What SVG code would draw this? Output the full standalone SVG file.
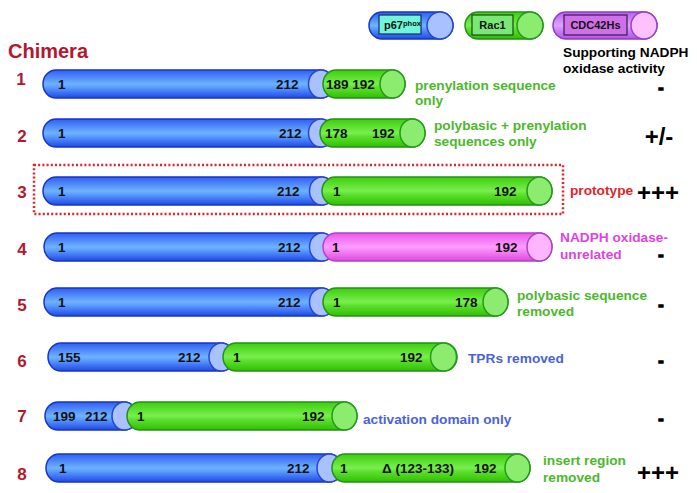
<svg xmlns="http://www.w3.org/2000/svg" width="697" height="493" viewBox="0 0 697 493">
<defs>
<linearGradient id="gb" x1="0" y1="0" x2="0" y2="1">
<stop offset="0" stop-color="#2f5ff2"/><stop offset="0.5" stop-color="#6fb2ff"/><stop offset="0.62" stop-color="#5a9cff"/><stop offset="1" stop-color="#2049e6"/>
</linearGradient>
<linearGradient id="gg" x1="0" y1="0" x2="0" y2="1">
<stop offset="0" stop-color="#3ccf0a"/><stop offset="0.5" stop-color="#7aee50"/><stop offset="0.62" stop-color="#5ee030"/><stop offset="1" stop-color="#2fc000"/>
</linearGradient>
<linearGradient id="gp" x1="0" y1="0" x2="0" y2="1">
<stop offset="0" stop-color="#e858e8"/><stop offset="0.5" stop-color="#ff9cff"/><stop offset="0.62" stop-color="#f888f8"/><stop offset="1" stop-color="#dd48dd"/>
</linearGradient>
<linearGradient id="gv" x1="0" y1="0" x2="0" y2="1">
<stop offset="0" stop-color="#b860ee"/><stop offset="0.5" stop-color="#dea2ff"/><stop offset="0.62" stop-color="#d08cfa"/><stop offset="1" stop-color="#b055e8"/>
</linearGradient>
<style>
.b{fill:url(#gb);stroke:#1634c8;stroke-width:1.5}
.be{fill:#a9c2ff;stroke:#2546d0;stroke-width:1.5}
.g{fill:url(#gg);stroke:#23901a;stroke-width:1.5}
.ge{fill:#8cec70;stroke:#239a18;stroke-width:1.5}
.p{fill:url(#gp);stroke:#b040c8;stroke-width:1.5}
.pe{fill:#ffb4ff;stroke:#a844c0;stroke-width:1.5}
.v{fill:url(#gv);stroke:#9238c8;stroke-width:1.5}
.ve{fill:#ffc0ff;stroke:#9a40c8;stroke-width:1.5}
text{font-family:"Liberation Sans",Arial,sans-serif;font-weight:bold}
.n{font-size:13.5px;fill:#111}
.rn{font-size:17px;fill:#b5172e;text-anchor:middle}
.lab{font-size:13.7px}
.gr{fill:#4cb82c}
.mg{fill:#dd44dd}
.bl{fill:#4a63d8}
.rd{fill:#e2232a}
.act{font-size:24px;fill:#000;text-anchor:middle}
.dash{font-size:16px;fill:#000;stroke:#000;stroke-width:1.3;text-anchor:middle}
</style>
</defs>

<g id="legend">
<g id="legend-p67">
<rect class="b" x="369" y="12" width="84" height="27" rx="13" ry="13.5"/>
<ellipse class="be" cx="440" cy="25.5" rx="13" ry="13.5"/>
<rect x="379" y="15" width="42" height="19" fill="#6ff5d8" stroke="#1a2a60" stroke-width="1.2"/>
<text x="384" y="29" font-size="11px" fill="#111">p67<tspan font-size="7.5px" dy="-3">phox</tspan></text>
</g>
<g id="legend-rac1">
<rect class="g" x="465" y="12" width="78" height="27" rx="13" ry="13.5"/>
<ellipse class="ge" cx="530" cy="25.5" rx="13" ry="13.5"/>
<rect x="472" y="15" width="41" height="20" fill="#7ae878" stroke="#1a4a10" stroke-width="1.2"/>
<text x="492.5" y="29" font-size="11px" fill="#111" text-anchor="middle">Rac1</text>
</g>
<g id="legend-cdc42">
<rect class="v" x="553" y="12" width="104" height="27" rx="13" ry="13.5"/>
<ellipse class="ve" cx="644" cy="25.5" rx="13" ry="13.5"/>
<rect x="564" y="15" width="63" height="20" fill="#cf70e8" stroke="#3a1a50" stroke-width="1.2"/>
<text x="595.5" y="29" font-size="11px" fill="#111" text-anchor="middle">CDC42Hs</text>
</g>
</g>

<g id="headers">
<text x="8" y="58" font-size="20px" fill="#b5172e">Chimera</text>
<text x="563" y="57" font-size="13.7px" fill="#000">Supporting NADPH</text>
<text x="563" y="73" font-size="13.7px" fill="#000">oxidase activity</text>
</g>

<g id="connectors"/>

<g id="row1">
<text class="rn" x="21" y="85">1</text>
<rect class="b" x="43" y="70" width="291" height="28" rx="13" ry="14"/>
<ellipse class="be" cx="321" cy="84" rx="12.5" ry="14"/>
<rect class="g" x="323" y="70" width="82" height="28" rx="13" ry="14"/>
<ellipse class="ge" cx="392.5" cy="84" rx="12.5" ry="14"/>
<text class="n" x="58" y="89">1</text>
<text class="n" x="276" y="89">212</text>
<text class="n" x="326" y="89">189 192</text>
<text class="lab gr" x="415" y="90">prenylation sequence</text>
<text class="lab gr" x="415" y="105">only</text>
<text class="dash" x="661" y="92.5">-</text>
</g>

<g id="row2">
<text class="rn" x="22" y="142">2</text>
<rect class="b" x="43" y="119" width="290" height="28" rx="13" ry="14"/>
<ellipse class="be" cx="321" cy="133" rx="12.5" ry="14"/>
<rect class="g" x="320" y="119" width="105" height="28" rx="13" ry="14"/>
<ellipse class="ge" cx="412.5" cy="133" rx="12.5" ry="14"/>
<text class="n" x="58" y="138">1</text>
<text class="n" x="279" y="138">212</text>
<text class="n" x="325" y="138">178</text>
<text class="n" x="372" y="138">192</text>
<text class="lab gr" x="434" y="130">polybasic + prenylation</text>
<text class="lab gr" x="434" y="146">sequences only</text>
<text class="act" x="659" y="145">+/-</text>
</g>

<g id="row3">
<rect x="34" y="165" width="529" height="49" fill="none" stroke="#e2232a" stroke-width="2.5" stroke-dasharray="2 2.2"/>
<text class="rn" x="22" y="198">3</text>
<rect class="b" x="43" y="177" width="291" height="28" rx="13" ry="14"/>
<ellipse class="be" cx="322" cy="191" rx="12.5" ry="14"/>
<rect class="g" x="322" y="177" width="230" height="28" rx="13" ry="14"/>
<ellipse class="ge" cx="539.5" cy="191" rx="12.5" ry="14"/>
<text class="n" x="58" y="196">1</text>
<text class="n" x="277" y="196">212</text>
<text class="n" x="333" y="196">1</text>
<text class="n" x="494" y="196">192</text>
<text class="lab rd" x="570" y="195">prototype</text>
<text class="act" x="658" y="201">+++</text>
</g>

<g id="row4">
<text class="rn" x="22" y="255">4</text>
<rect class="b" x="44" y="233" width="290" height="28" rx="13" ry="14"/>
<ellipse class="be" cx="322" cy="247" rx="12.5" ry="14"/>
<rect class="p" x="323" y="233" width="229" height="28" rx="13" ry="14"/>
<ellipse class="pe" cx="539.5" cy="247" rx="12.5" ry="14"/>
<text class="n" x="58" y="252">1</text>
<text class="n" x="278" y="252">212</text>
<text class="n" x="332" y="252">1</text>
<text class="n" x="495" y="252">192</text>
<text class="lab mg" x="560" y="242">NADPH oxidase-</text>
<text class="lab mg" x="560" y="259">unrelated</text>
<text class="dash" x="661" y="259.5">-</text>
</g>

<g id="row5">
<text class="rn" x="22" y="311">5</text>
<rect class="b" x="44" y="288" width="290" height="28" rx="13" ry="14"/>
<ellipse class="be" cx="322" cy="302" rx="12.5" ry="14"/>
<rect class="g" x="323" y="288" width="185" height="28" rx="13" ry="14"/>
<ellipse class="ge" cx="495.5" cy="302" rx="12.5" ry="14"/>
<text class="n" x="58" y="307">1</text>
<text class="n" x="278" y="307">212</text>
<text class="n" x="333" y="307">1</text>
<text class="n" x="455" y="307">178</text>
<text class="lab gr" x="517" y="300">polybasic sequence</text>
<text class="lab gr" x="517" y="316">removed</text>
<text class="dash" x="661" y="309.5">-</text>
</g>

<g id="row6">
<text class="rn" x="22" y="367">6</text>
<rect class="b" x="48" y="343" width="186" height="28" rx="13" ry="14"/>
<ellipse class="be" cx="221.5" cy="357" rx="12.5" ry="14"/>
<rect class="g" x="223" y="343" width="234" height="28" rx="13" ry="14"/>
<ellipse class="ge" cx="443.5" cy="357" rx="13" ry="14"/>
<text class="n" x="58" y="362">155</text>
<text class="n" x="178" y="362">212</text>
<text class="n" x="233" y="362">1</text>
<text class="n" x="400" y="362">192</text>
<text class="lab bl" x="468" y="363">TPRs removed</text>
<text class="dash" x="661" y="366">-</text>
</g>

<g id="row7">
<text class="rn" x="22" y="422">7</text>
<rect class="b" x="45" y="402" width="92" height="28" rx="13" ry="14"/>
<ellipse class="be" cx="124.5" cy="416" rx="12.5" ry="14"/>
<rect class="g" x="127" y="402" width="230" height="28" rx="13" ry="14"/>
<ellipse class="ge" cx="344.5" cy="416" rx="12.5" ry="14"/>
<text class="n" x="53" y="421">199</text>
<text class="n" x="85" y="421">212</text>
<text class="n" x="137" y="421">1</text>
<text class="n" x="302" y="421">192</text>
<text class="lab bl" x="363" y="424">activation domain only</text>
<text class="dash" x="661" y="424">-</text>
</g>

<g id="row8">
<text class="rn" x="22" y="480">8</text>
<rect class="b" x="46" y="454" width="296" height="28" rx="13" ry="14"/>
<ellipse class="be" cx="329.5" cy="468" rx="12.5" ry="14"/>
<rect class="g" x="332" y="454" width="198" height="28" rx="13" ry="14"/>
<ellipse class="ge" cx="517.5" cy="468" rx="12.5" ry="14"/>
<text class="n" x="59" y="473">1</text>
<text class="n" x="287" y="473">212</text>
<text class="n" x="340" y="473">1</text>
<text class="n" x="382" y="473">Δ (123-133)</text>
<text class="n" x="474" y="473">192</text>
<text class="lab gr" x="543" y="465">insert region</text>
<text class="lab gr" x="543" y="482">removed</text>
<text class="act" x="658" y="481">+++</text>
</g>
</svg>
